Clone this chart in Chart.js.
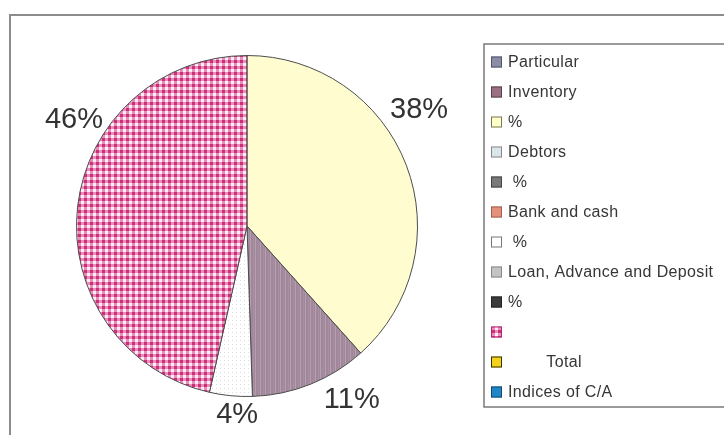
<!DOCTYPE html>
<html>
<head>
<meta charset="utf-8">
<script src="https://cdn.jsdelivr.net/npm/chart.js@4/dist/chart.umd.min.js"></script>
<style>
  html, body { margin: 0; padding: 0; background: #ffffff; }
  #wrap { width: 724px; height: 435px; position: relative; }
</style>
</head>
<body>
<div id="wrap"><canvas id="c" width="724" height="435"></canvas></div>
<script>
// ---- data ----
const sliceLabels = ['%', 'Inventory', ' %', ''];
const sliceValues = [38, 11, 4, 46];
const sliceText = ['38%', '11%', '4%', '46%'];

const legendLabels = ['Particular', 'Inventory', '%', 'Debtors', ' %', 'Bank and cash', ' %',
  'Loan, Advance and Deposit', '%', '', '        Total', 'Indices of C/A'];

// ---- styles ----
function makePattern(w, h, draw) {
  const c = document.createElement('canvas');
  c.width = w; c.height = h;
  const g = c.getContext('2d');
  draw(g);
  return document.getElementById('c').getContext('2d').createPattern(c, 'repeat');
}
const pinkCheck = makePattern(6, 6, g => {
  g.fillStyle = '#fdeef5'; g.fillRect(0, 0, 6, 6);
  g.fillStyle = 'rgba(222,60,140,0.55)';
  g.fillRect(0, 0, 6, 3);
  g.fillRect(0, 0, 3, 6);
  g.fillStyle = 'rgba(180,10,80,0.55)';
  g.fillRect(0, 0, 3, 3);
});
const mauveStripe = makePattern(5, 1, g => {
  g.fillStyle = '#a08799'; g.fillRect(0, 0, 5, 1);
  g.fillStyle = '#b69fb0'; g.fillRect(0, 0, 1, 1);
  g.fillStyle = '#a98fa2'; g.fillRect(3, 0, 1, 1);
});
const whiteDots = makePattern(4, 4, g => {
  g.fillStyle = '#ffffff'; g.fillRect(0, 0, 4, 4);
  g.fillStyle = '#dcdce4'; g.fillRect(0, 0, 1, 1);
});
const sliceColors = ['#fffcd0', mauveStripe, whiteDots, pinkCheck];

const legendFill = ['#8a8da6', '#9a7082', '#ffffcc', '#dbe6ea', '#7a7a7a', '#e4917c', '#ffffff',
  '#c4c4c4', '#3c3c3c', pinkCheck, '#f7d21c', '#1f86c8'];
const legendBorder = ['#555566', '#5a4050', '#777755', '#888888', '#444444', '#a06050', '#777777',
  '#888888', '#222222', '#b02878', '#333300', '#104870'];

const framePlugin = {
  id: 'frame',
  beforeDraw(chart) {
    const ctx = chart.ctx;
    ctx.save();
    ctx.fillStyle = '#ffffff';
    ctx.fillRect(0, 0, chart.width, chart.height);
    ctx.strokeStyle = '#8c8c8c';
    ctx.lineWidth = 2;
    ctx.strokeRect(10, 15, 740, 440);
    ctx.restore();
  }
};

const sliceLabelPlugin = {
  id: 'sliceLabels',
  afterDatasetsDraw(chart, args, opts) {
    const ctx = chart.ctx;
    const meta = chart.getDatasetMeta(0);
    ctx.save();
    ctx.font = '29px "Liberation Sans", Arial, sans-serif';
    ctx.fillStyle = '#333333';
    ctx.textAlign = 'center';
    ctx.textBaseline = 'middle';
    meta.data.forEach((arc, i) => {
      const a = opts.angles[i] * Math.PI / 180;
      const d = arc.outerRadius + opts.extra[i];
      const x = arc.x + d * Math.sin(a);
      const y = arc.y - d * Math.cos(a);
      ctx.fillText(sliceText[i], x, y);
    });
    ctx.restore();
  }
};

const boxLegendPlugin = {
  id: 'boxLegend',
  afterDraw(chart, args, o) {
    const ctx = chart.ctx;
    ctx.save();
    ctx.strokeStyle = '#7a7a7a';
    ctx.lineWidth = 1.5;
    ctx.strokeRect(o.left, o.top, 300, o.height);
    ctx.font = '16px "Liberation Sans", Arial, sans-serif';
    ctx.letterSpacing = '0.35px';
    ctx.textBaseline = 'middle';
    ctx.textAlign = 'left';
    legendLabels.forEach((lab, i) => {
      const cy = o.firstY + i * o.step;
      ctx.fillStyle = legendFill[i];
      ctx.fillRect(o.boxX, cy - 5.5, 11, 11);
      ctx.strokeStyle = legendBorder[i];
      ctx.lineWidth = 1;
      ctx.strokeRect(o.boxX + 0.5, cy - 5, 10, 10);
      ctx.fillStyle = '#363636';
      ctx.fillText(lab, o.textX, cy + 1);
    });
    ctx.restore();
  }
};

new Chart(document.getElementById('c'), {
  type: 'pie',
  data: {
    labels: sliceLabels,
    datasets: [{
      data: sliceValues,
      backgroundColor: sliceColors,
      borderColor: '#4d4d4d',
      borderWidth: 1
    }]
  },
  options: {
    responsive: false,
    animation: false,
    events: [],
    layout: { padding: { left: 76, right: 306, top: 55, bottom: 38 } },
    plugins: {
      legend: { display: false },
      tooltip: { enabled: false },
      sliceLabels: { angles: [56, 149, 183, 301.5], extra: [37, 33, 19, 32.5] },
      boxLegend: { left: 484, top: 44, height: 363, boxX: 491, textX: 508, firstY: 62, step: 30 }
    }
  },
  plugins: [framePlugin, sliceLabelPlugin, boxLegendPlugin]
});
</script>
</body>
</html>
